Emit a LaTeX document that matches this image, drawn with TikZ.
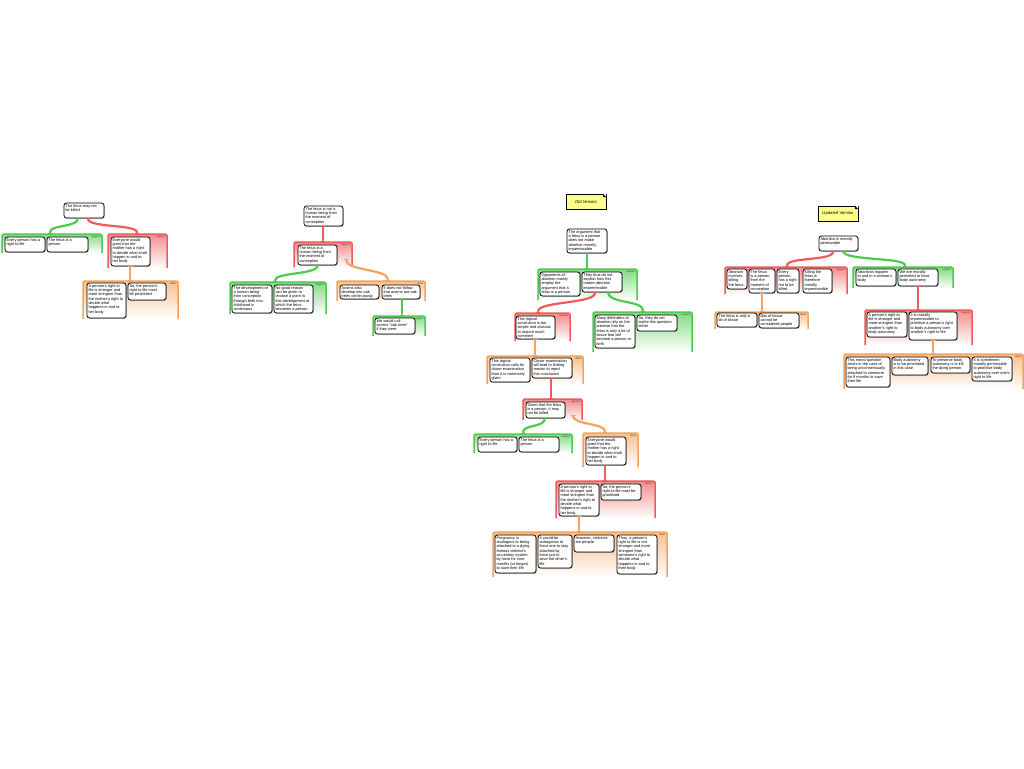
\documentclass[tikz,border=0pt]{standalone}
\usepackage{fontspec}
\setmainfont{Liberation Sans}
\usetikzlibrary{arrows.meta,shadows}
\definecolor{gsup}{HTML}{4CCB4C}
\definecolor{gopp}{HTML}{F05A5A}
\definecolor{greb}{HTML}{F7A35C}
\definecolor{noteyel}{HTML}{FFFF8C}
\newcommand\boxfont{\fontsize{3.9}{4.3}\selectfont}
\tikzset{
  bxs/.style={draw=black, line width=0.8pt, rounded corners=2.5pt, fill=white, inner sep=1.5pt, outer sep=0pt, anchor=north west,
    drop shadow={shadow xshift=0.8pt, shadow yshift=-0.8pt, fill=black!55}},
  grpbox/.style={inner sep=0pt, outer sep=0pt, anchor=north west},
  lbl/.style={font=\fontsize{2.6}{3}\selectfont, text=black!75, inner sep=0.3pt, anchor=north east},
  con/.style={line width=2.2pt},
  supc/.style={con, draw=gsup, arrows={-Triangle[reversed,width=5pt,length=2pt]}},
  oppc/.style={con, draw=gopp, arrows={Bar[width=5pt,line width=1pt]-Triangle[reversed,width=5pt,length=2pt]}},
  rebc/.style={con, draw=greb, arrows={Bar[width=5pt,line width=1pt]-Triangle[reversed,width=5pt,length=2pt]}},
  notebox/.style={draw=black, line width=0.7pt, fill=noteyel, anchor=north west, inner sep=0pt, outer sep=0pt,
    minimum width=40pt, minimum height=15pt, font=\fontsize{4.2}{5}\selectfont,
    drop shadow={shadow xshift=0.8pt, shadow yshift=-0.8pt, fill=black!55}}
}
\newcommand\bx[6]{\node[bxs, minimum width={(#4-#2)*1pt}, minimum height={(#5-#3)*1pt}] (#1) at (#2,#3)
  {\parbox[c][\dimexpr#5pt-#3pt-3pt\relax][t]{\dimexpr#4pt-#2pt-3pt\relax}{\raggedright\boxfont #6}};}
\newcommand\grp[7]{%
  \node[grpbox, minimum width={(#5-#3)*1pt}, minimum height={(#6-#4)*1pt}, top color=#2!70!white, bottom color=white] (#1) at (#3,#4) {};
  \draw[draw=#2, line width=1.5pt, rounded corners=1.5pt] (#1.south west) -- (#1.north west) -- (#1.north east) -- (#1.south east);
  \node[lbl] (#1l) at ([xshift=-1.5pt,yshift=-1.5pt]#1.north east) {#7};}
\newcommand\fold[1]{%
  \fill[white] ([xshift=-3pt]#1.north east) -- (#1.north east) -- ([yshift=-3pt]#1.north east) -- cycle;
  \fill[black] ([xshift=-3pt]#1.north east) -- ([yshift=-3pt]#1.north east) -- ([xshift=-3pt,yshift=-3pt]#1.north east) -- cycle;}
\begin{document}
\begin{tikzpicture}[x=1pt,y=-1pt]
\useasboundingbox[fill=white] (0,0) rectangle (1024,768);

% ---------- groups ----------
\grp{G1s}{gsup}{2}{234}{102}{253}{support}
\grp{G1o}{gopp}{108}{234}{167}{268}{oppose}
\grp{G1r}{greb}{83}{281}{178}{319}{rebut}
\grp{G2o}{gopp}{294}{242}{352}{267}{oppose}
\grp{G2s}{gsup}{230}{282}{326}{314}{support}
\grp{G2r}{greb}{337}{281}{425}{301}{rebut}
\grp{G2t}{gsup}{373}{316}{425}{336}{support}
\grp{G3s}{gsup}{538}{269}{637}{300}{support}
\grp{G3o}{gopp}{515}{313}{570}{341}{oppose}
\grp{G3t}{gsup}{593}{312}{692}{352}{support}
\grp{G3r}{greb}{487}{356}{583}{384}{rebut}
\grp{G3p}{gopp}{523}{399}{582}{420}{oppose}
\grp{G3u}{gsup}{474}{434}{572}{453}{support}
\grp{G3q}{greb}{583}{433}{638}{467}{rebut}
\grp{G3v}{gopp}{556}{481}{655}{518}{oppose}
\grp{G3w}{greb}{493}{532}{667}{577}{rebut}
\grp{G4o}{gopp}{725}{267}{847}{294}{oppose}
\grp{G4r}{greb}{715}{312}{808}{329}{rebut}
\grp{G4s}{gsup}{853}{267}{953}{288}{support}
\grp{G4p}{gopp}{865}{310}{972}{345}{oppose}
\grp{G4q}{greb}{844}{354}{1023}{389}{rebut}

% ---------- tree 1 ----------
\bx{R1}{64}{203}{104}{218}{The fetus may not\\ be killed}
\bx{S1a}{5}{237}{45}{252}{Every person has a\\ right to life}
\bx{S1b}{47}{237}{88}{252}{The fetus is a\\ person}
\bx{O1a}{111}{237}{150}{266}{Everyone would\\ grant that the\\ mother has a right\\ to decide what shall\\ happen in and to\\ her body}
\bx{B1a}{87}{283}{126}{318}{A person's right to\\ life is stronger and\\ more stringent than\\ the mother's right to\\ decide what\\ happens in and to\\ her body}
\bx{B1b}{128}{283}{166}{300}{So, the person's\\ right to life must\\ be prioritised}

% ---------- tree 2 ----------
\bx{R2}{304}{206}{343}{226}{The fetus is not a\\ human being from\\ the moment of\\ conception}
\bx{O2}{298}{245}{337}{265}{The fetus is a\\ human being from\\ the moment of\\ conception}
\bx{S2a}{232}{285}{272}{313}{The development of\\ a human being\\ from conception\\ through birth into\\ childhood is\\ continuous}
\bx{S2b}{274}{285}{313}{313}{No good reason\\ can be given to\\ choose a point in\\ this development at\\ which the fetus\\ becomes a person}
\bx{B2a}{340}{285}{379}{299}{Acorns also\\ develop into oak\\ trees continuously}
\bx{B2b}{382}{285}{420}{299}{It does not follow\\ that acorns are oak\\ trees}
\bx{S2c}{375}{318}{415}{334}{We would call\\ acorns "oak trees"\\ if they were}

% ---------- tree 3 (old version) ----------
\node[notebox] (N1) at (566,194) {\itshape Old Version};
\fold{N1}
\bx{R3}{567}{229}{607}{253}{The argument that\\ a fetus is a person\\ does not make\\ abortion morally\\ impermissible}
\bx{S3a}{540}{272}{580}{296}{Opponents of\\ abortion mainly\\ employ the\\ argument that a\\ fetus is a person}
\bx{S3b}{582}{272}{622}{292}{They thus do not\\ explain how this\\ makes abortion\\ impermissible}
\bx{O3a}{516}{316}{555}{339}{This logical\\ conclusion is too\\ simple and obvious\\ to require much\\ comment}
\bx{S3c}{595}{315}{635}{348}{Many defenders of\\ abortion rely on the\\ premise that the\\ fetus is only a bit of\\ tissue that will\\ become a person at\\ birth}
\bx{S3d}{637}{315}{677}{331}{So, they do not\\ tackle this question\\ either}
\bx{B3a}{490}{358}{530}{382}{This logical\\ conclusion calls for\\ closer examination\\ than it is commonly\\ given}
\bx{B3b}{532}{358}{572}{378}{Closer examination\\ will lead to finding\\ reason to reject\\ this conclusion}
\bx{O3b}{526}{402}{565}{418}{Given that the fetus\\ is a person, it may\\ not be killed}
\bx{S3e}{478}{437}{517}{452}{Every person has a\\ right to life}
\bx{S3f}{519}{437}{559}{452}{The fetus is a\\ person}
\bx{B3c}{586}{437}{626}{465}{Everyone would\\ grant that the\\ mother has a right\\ to decide what shall\\ happen in and to\\ her body}
\bx{O3c}{559}{484}{599}{516}{A person's right to\\ life is stronger and\\ more stringent than\\ the mother's right to\\ decide what\\ happens in and to\\ her body}
\bx{O3d}{601}{484}{641}{500}{So, the person's\\ right to life must be\\ prioritised}
\bx{B3d}{495}{535}{536}{573}{Pregnancy is\\ analogous to being\\ attached to a dying\\ famous violinist's\\ circulatory system\\ by force for nine\\ months (or longer)\\ to save their life}
\bx{B3e}{538}{535}{572}{568}{It would be\\ outrageous to\\ force one to stay\\ attached by\\ force just to\\ save the other's\\ life}
\bx{B3f}{574}{535}{614}{552}{However, violinists\\ are people}
\bx{B3g}{617}{535}{657}{574}{Thus, a person's\\ right to life is not\\ stronger and more\\ stringent than\\ someone's right to\\ decide what\\ happens in and to\\ their body}

% ---------- tree 4 (updated version) ----------
\node[notebox] (N2) at (818,206) {Updated Version};
\fold{N2}
\bx{R4}{819}{236}{858}{251}{Abortion is morally\\ permissible}
\bx{O4a}{727}{269}{747}{289}{Abortion\\ involves\\ killing\\ the fetus}
\bx{O4b}{749}{269}{775}{293}{The fetus\\ is a person\\ from the\\ moment of\\ conception}
\bx{O4c}{777}{269}{799}{293}{Every\\ person\\ has a right\\ not to be\\ killed}
\bx{O4d}{803}{269}{832}{293}{Killing the\\ fetus is\\ therefore\\ morally\\ impermissible}
\bx{B4a}{717}{313}{757}{327}{The fetus is only a\\ bit of tissue}
\bx{B4b}{759}{313}{799}{328}{Bits of tissue\\ cannot be\\ considered people}
\bx{S4a}{856}{269}{896}{286}{Abortions happen\\ to and in a woman's\\ body}
\bx{S4b}{898}{269}{938}{286}{We are morally\\ permitted to have\\ body autonomy}
\bx{O4e}{867}{312}{907}{337}{A person's right to\\ life is stronger and\\ more stringent than\\ another's right to\\ body autonomy}
\bx{O4f}{909}{312}{957}{340}{It is morally\\ impermissible to\\ prioritize a person's right\\ to body autonomy over\\ another's right to life}
\bx{B4c}{846}{357}{890}{387}{This moral question\\ exists in the case of\\ being unconsensually\\ attached to someone\\ for 9 months to save\\ their life}
\bx{B4d}{892}{357}{928}{375}{Body autonomy\\ is to be prioritised\\ in this case}
\bx{B4e}{931}{357}{970}{373}{To preserve body\\ autonomy is to kill\\ the dying person}
\bx{B4f}{972}{357}{1012}{381}{It is sometimes\\ morally permissible\\ to prioritise body\\ autonomy over one's\\ right to life}

% ---------- connectors ----------
\draw[supc] ([xshift=14pt]R1.south west) .. controls +(0,10) and +(0,-10) .. ([xshift=48pt]G1s.north west);
\draw[oppc] ([xshift=24pt]R1.south west) .. controls +(0,10) and +(0,-10) .. ([xshift=29pt]G1o.north west);
\draw[rebc] ([xshift=19pt]O1a.south west) -- ([xshift=47pt]G1r.north west);

\draw[oppc] ([xshift=19pt]R2.south west) -- ([xshift=29pt]G2o.north west);
\draw[supc] ([xshift=20pt]O2.south west) .. controls +(0,10) and +(0,-10) .. ([xshift=45pt]G2s.north west);
\draw[rebc] ([xshift=52pt,yshift=-17pt]G2o.north west) .. controls +(0,12) and +(0,-12) .. ([xshift=51pt]G2r.north west);
\draw[supc] ([xshift=20pt]B2b.south west) -- ([xshift=29pt]G2t.north west);

\draw[supc] ([xshift=20pt]R3.south west) -- ([xshift=49pt]G3s.north west);
\draw[oppc] ([xshift=13pt]S3b.south west) .. controls +(0,12) and +(0,-12) .. ([xshift=23pt]G3o.north west);
\draw[supc] ([xshift=26pt]S3b.south west) .. controls +(0,12) and +(0,-12) .. ([xshift=50pt]G3t.north west);
\draw[rebc] ([xshift=19pt]O3a.south west) -- ([xshift=48pt]G3r.north west);
\draw[oppc] ([xshift=19pt]B3b.south west) -- ([xshift=28pt]G3p.north west);
\draw[supc] ([xshift=19pt]O3b.south west) .. controls +(0,10) and +(0,-10) .. ([xshift=49pt]G3u.north west);
\draw[rebc] ([xshift=50pt,yshift=-16pt]G3p.north west) .. controls +(0,10) and +(0,-10) .. ([xshift=22pt]G3q.north west);
\draw[oppc] ([xshift=19pt]B3c.south west) -- ([xshift=49pt]G3v.north west);
\draw[rebc] ([xshift=20pt]O3c.south west) -- ([xshift=86pt]G3w.north west);

\draw[oppc] ([xshift=14pt]R4.south west) .. controls +(0,10) and +(0,-10) .. ([xshift=62pt]G4o.north west);
\draw[supc] ([xshift=24pt]R4.south west) .. controls +(0,10) and +(0,-10) .. ([xshift=52pt]G4s.north west);
\draw[rebc] ([xshift=13pt]O4b.south west) -- ([xshift=47pt]G4r.north west);
\draw[oppc] ([xshift=20pt]S4b.south west) -- ([xshift=53pt]G4p.north west);
\draw[rebc] ([xshift=24pt]O4f.south west) -- ([xshift=89pt]G4q.north west);
\end{tikzpicture}
\end{document}
